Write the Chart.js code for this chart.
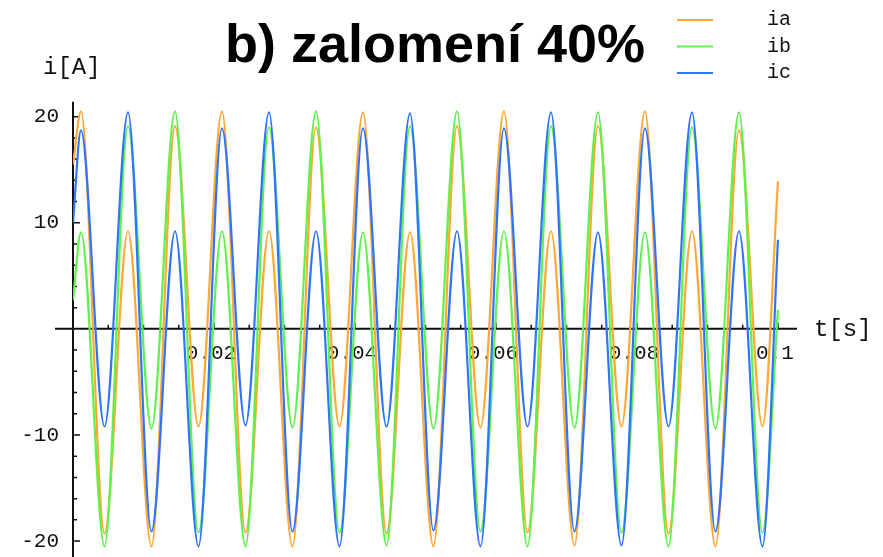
<!DOCTYPE html>
<html>
<head>
<meta charset="utf-8">
<script src="https://cdn.jsdelivr.net/npm/chart.js@4.4.0/dist/chart.umd.min.js"></script>
<style>
  html, body { margin: 0; padding: 0; background: #fff; }
</style>
</head>
<body>
<canvas id="chart_currents" width="883" height="557"></canvas>
<script>
// time of each sample [s]: start, every peak / trough of the currents, end
const tSec = [0,
  0.00113, 0.00447, 0.00780, 0.01113, 0.01447, 0.01780,
  0.02113, 0.02447, 0.02780, 0.03113, 0.03447, 0.03780,
  0.04113, 0.04447, 0.04780, 0.05113, 0.05447, 0.05780,
  0.06113, 0.06447, 0.06780, 0.07113, 0.07447, 0.07780,
  0.08113, 0.08447, 0.08780, 0.09113, 0.09447, 0.09780,
  0.1];

// phase currents [A] at those times
const ia = [15.5,
  20.5, -19.3, 9.2, -20.5, 19.1, -9.2,
  20.5, -19.2, 9.2, -20.5, 19.0, -9.2,
  20.4, -19.3, 9.1, -20.5, 19.1, -9.3,
  20.5, -19.2, 9.2, -20.4, 19.1, -9.2,
  20.5, -19.3, 9.2, -20.5, 18.7, -9.2,
  13.9];
const ib = [2.7,
  9.1, -20.5, 19.1, -9.4, 20.5, -19.2,
  9.2, -20.5, 19.0, -9.3, 20.5, -19.2,
  9.1, -20.4, 19.1, -9.4, 20.5, -19.1,
  9.2, -20.5, 19.1, -9.3, 20.4, -19.2,
  9.1, -20.5, 19.0, -9.4, 20.4, -19.2,
  1.8];
const ic = [10.0,
  18.7, -9.2, 20.4, -19.1, 9.2, -20.5,
  18.9, -9.1, 20.4, -19.1, 9.2, -20.5,
  18.9, -9.2, 20.3, -19.0, 9.2, -20.5,
  18.9, -9.2, 20.4, -19.1, 9.1, -20.4,
  18.9, -9.2, 20.4, -19.1, 9.2, -20.5,
  8.4];

const seriesNames = ['ia', 'ib', 'ic'];
const seriesValues = [ia, ib, ic];
const seriesColors = ['#ffa833', '#5ef24c', '#2f74ff'];

const xTickLabels = ['0.02', '0.04', '0.06', '0.08', '0.1'];
const yTickLabels = ['-20', '-10', '10', '20'];

const MONO = 'Liberation Mono';

// axes crossing at the origin, ticks pointing into the plot
const originAxes = {
    id: 'originAxes',
    beforeDatasetsDraw(chart) {
        const {ctx, chartArea, scales: {x, y}} = chart;
        const x0 = x.getPixelForValue(0);
        const y0 = y.getPixelForValue(0);
        ctx.save();
        ctx.strokeStyle = '#111';
        ctx.lineWidth = 2;
        ctx.beginPath();
        ctx.moveTo(x0, chartArea.top);
        ctx.lineTo(x0, chartArea.bottom);
        ctx.moveTo(x0 - 18, y0);
        ctx.lineTo(chartArea.right, y0);
        ctx.stroke();

        ctx.lineWidth = 1.5;
        ctx.beginPath();
        y.ticks.forEach(t => {
            if (t.value === 0) return;
            const py = y.getPixelForValue(t.value);
            ctx.moveTo(x0, py);
            ctx.lineTo(x0 + (t.label ? 7 : 4), py);
        });
        x.ticks.forEach(t => {
            if (t.value === 0) return;
            const px = x.getPixelForValue(t.value);
            ctx.moveTo(px, y0);
            ctx.lineTo(px, y0 - (t.label ? 6 : 4));
        });
        ctx.stroke();
        ctx.restore();
    },
    afterDraw(chart) {
        const {ctx} = chart;
        ctx.save();
        ctx.fillStyle = '#111';
        ctx.textBaseline = 'middle';
        ctx.textAlign = 'left';
        ctx.font = '24px "' + MONO + '"';
        ctx.fillText('i[A]', 43, 68);
        ctx.fillText('t[s]', 814, 330);

        // legend, top right
        ctx.font = '20px "' + MONO + '"';
        chart.data.datasets.forEach((ds, i) => {
            const ly = 20 + i * 26.5;
            ctx.strokeStyle = ds.borderColor;
            ctx.lineWidth = 2;
            ctx.beginPath();
            ctx.moveTo(677, ly);
            ctx.lineTo(713, ly);
            ctx.stroke();
            ctx.fillText(ds.label, 767, ly);
        });
        ctx.restore();
    }
};

const datasets = seriesNames.map((name, i) => ({
    label: name,
    data: tSec.map((t, k) => ({x: t, y: seriesValues[i][k]})),
    borderColor: seriesColors[i],
    borderWidth: 2.2,
    pointRadius: 0,
    fill: false,
    cubicInterpolationMode: 'monotone',
    order: seriesNames.length - i
}));

const elem = document.getElementById('chart_currents');
const chart = new Chart(elem.getContext('2d'), {
    type: 'line',
    data: {datasets},
    options: {
        responsive: false,
        animation: false,
        events: [],
        layout: {padding: {left: 0, right: 86, top: 0, bottom: 0}},
        plugins: {
            legend: {display: false},
            tooltip: {enabled: false},
            title: {
                display: true,
                text: 'b) zalomení 40%',
                fullSize: false,
                color: '#000',
                font: {family: 'Liberation Sans', size: 54, weight: 'bold'},
                padding: {top: 15, bottom: 22}
            }
        },
        scales: {
            x: {
                type: 'linear',
                position: {y: 0},
                min: 0,
                max: 0.1027,
                border: {display: false},
                grid: {display: false},
                ticks: {
                    stepSize: 0.005,
                    autoSkip: false,
                    includeBounds: false,
                    maxRotation: 0,
                    padding: 4,
                    labelOffset: -3,
                    color: '#111',
                    font: {family: MONO, size: 21},
                    callback: v => {
                        const s = String(+v.toFixed(3));
                        return xTickLabels.includes(s) ? s : '';
                    }
                },
                afterFit: s => { s.paddingLeft = 0; s.paddingRight = 0; }
            },
            y: {
                type: 'linear',
                position: 'left',
                min: -21.5,
                max: 21.4,
                border: {display: false},
                grid: {display: false},
                ticks: {
                    stepSize: 2,
                    autoSkip: false,
                    includeBounds: false,
                    padding: 6,
                    color: '#111',
                    font: {family: MONO, size: 21},
                    callback: v => {
                        const s = String(v);
                        return yTickLabels.includes(s) ? s : '';
                    }
                },
                afterFit: s => { s.width = 73; s.paddingTop = 0; s.paddingBottom = 0; }
            }
        }
    },
    plugins: [originAxes]
});
</script>
</body>
</html>
